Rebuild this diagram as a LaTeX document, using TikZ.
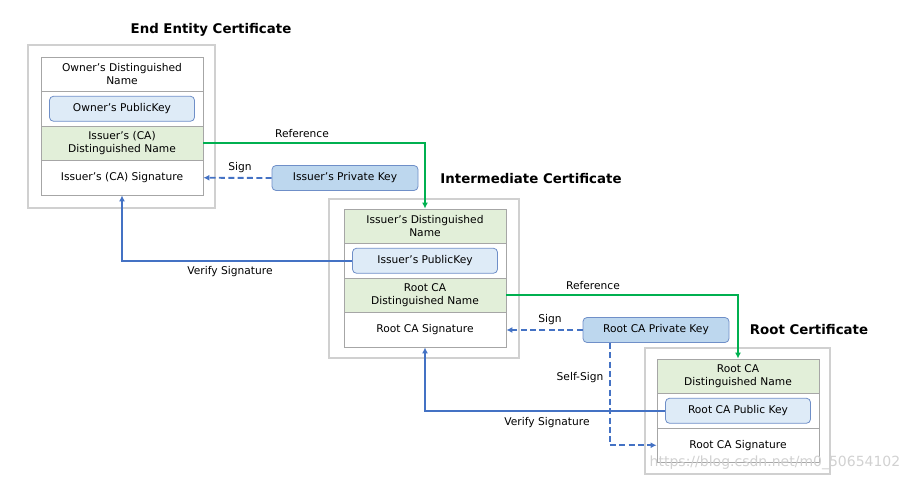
\documentclass[tikz,border=0pt]{standalone}
\usepackage{fontspec}
\setmainfont{DejaVu Sans}
\usetikzlibrary{arrows.meta,calc}
\definecolor{greenfill}{HTML}{E2EFD9}
\definecolor{rowborder}{HTML}{A6A6A6}
\definecolor{outerborder}{HTML}{D0D0D0}
\definecolor{pubfill}{HTML}{DEEBF7}
\definecolor{privfill}{HTML}{BDD7EE}
\definecolor{keyborder}{HTML}{6F8FC8}
\definecolor{greenline}{HTML}{00B050}
\definecolor{blueline}{HTML}{4472C4}
\tikzset{
  body/.style={font=\fontsize{8}{9.75}\selectfont},
  outerbox/.style={draw=outerborder, line width=0.8pt, fill=white},
  row/.style={body, draw=rowborder, line width=0.6pt, fill=white, minimum width=121.5pt, minimum height=25.875pt, inner sep=0pt, align=center},
  dnrow/.style={row, fill=greenfill},
  pubkey/.style={body, draw=keyborder, line width=0.6pt, fill=pubfill, rounded corners=3pt, minimum width=108.75pt, minimum height=18.75pt, inner sep=0pt},
  privkey/.style={body, draw=keyborder, line width=0.6pt, fill=privfill, rounded corners=3pt, minimum width=109.5pt, minimum height=18.75pt, inner sep=0pt},
  title/.style={font=\fontsize{10}{12}\selectfont\bfseries},
  lbl/.style={body},
  refline/.style={draw=greenline, line width=1.3pt, -{Latex[length=4.5pt,width=4.5pt]}},
  verline/.style={draw=blueline, line width=1.3pt, -{Latex[length=4.5pt,width=4.5pt]}},
  signline/.style={draw=blueline, line width=1.4pt, dash pattern=on 4.5pt off 2.5pt, -{Latex[length=4.5pt,width=4.5pt]}},
}
\begin{document}
\begin{tikzpicture}[x=0.75pt,y=-0.75pt]
\useasboundingbox (0,0) rectangle (911,482);
% titles
\node[title] (t1) at (211,30) {End Entity Certificate};
\node[title] (t2) at (531,179) {Intermediate Certificate};
\node[title] (t3) at (809,330) {Root Certificate};
% outer boxes
\node[outerbox, minimum width=140.25pt, minimum height=122.25pt] (eeo) at (121.5,126.5) {};
\node[outerbox, minimum width=142.5pt, minimum height=119.25pt] (ino) at (424,278.5) {};
\node[outerbox, minimum width=138.75pt, minimum height=94.5pt] (rto) at (737.5,411) {};
% end entity
\node[row] (e1) at (122,74.25) {Owner's Distinguished\\Name};
\node[row] (e2) at (122,108.75) {};
\node[dnrow] (e3) at (122,143.25) {Issuer's (CA)\\Distinguished Name};
\node[row] (e4) at (122,177.75) {Issuer's (CA) Signature};
\node[pubkey] (epub) at (122,108.75) {Owner's PublicKey};
% intermediate
\node[dnrow] (i1) at (425,226.25) {Issuer's Distinguished\\Name};
\node[row] (i2) at (425,260.75) {};
\node[dnrow] (i3) at (425,295.25) {Root CA\\Distinguished Name};
\node[row] (i4) at (425,329.75) {Root CA Signature};
\node[pubkey] (ipub) at (425,260.75) {Issuer's PublicKey};
% root
\node[dnrow] (r1) at (738,376.25) {Root CA\\Distinguished Name};
\node[row] (r2) at (738,410.75) {};
\node[row] (r3) at (738,445.25) {Root CA Signature};
\node[pubkey] (rpub) at (738,410.75) {Root CA Public Key};
% private keys
\node[privkey] (ipriv) at (345,178) {Issuer's Private Key};
\node[privkey] (rpriv) at (656,330) {Root CA Private Key};
% connectors
\draw[refline] (e3.east) -| (i1.north);
\draw[refline] (i3.east) -| (r1.north);
\draw[signline] (ipriv.west) -- (e4.east);
\draw[signline] (rpriv.west) -- (i4.east |- rpriv.west);
\coordinate (ss) at ($(rpriv.south west)+(27,0)$);
\draw[signline] (ss) |- (r3.west);
\draw[verline] (ipub.west) -| (e4.south);
\draw[verline] (rpub.west) -| (i4.south);
% labels
\node[lbl] (l1) at (302,134) {Reference};
\node[lbl] (l2) at (240,168) {Sign};
\node[lbl] (l3) at (230,272) {Verify Signature};
\node[lbl] (l4) at (593,286) {Reference};
\node[lbl] (l5) at (550,320) {Sign};
\node[lbl] (l6) at (580,378) {Self-Sign};
\node[lbl] (l7) at (547,423) {Verify Signature};
% watermark
\node[font=\fontsize{10.5}{12}\selectfont, text=black!18] (wm) at (775,463) {https://blog.csdn.net/m0\_50654102};
\end{tikzpicture}
\end{document}
